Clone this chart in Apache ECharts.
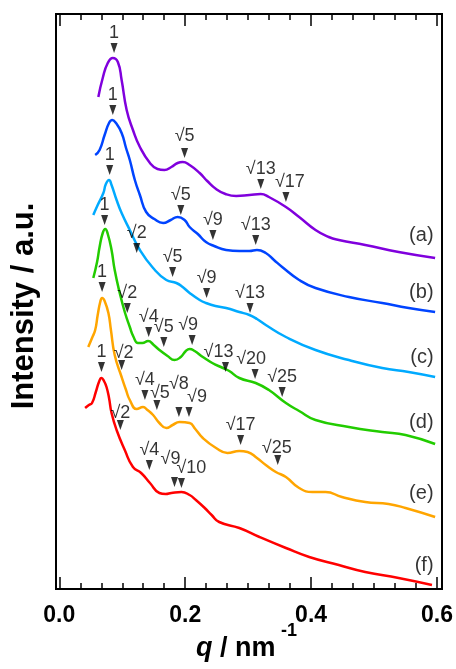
<!DOCTYPE html>
<html>
<head>
<meta charset="utf-8">
<script src="https://cdn.jsdelivr.net/npm/echarts@6/dist/echarts.min.js"></script>
<style>
html,body{margin:0;padding:0;background:#fff;}
#c{width:456px;height:669px;}
</style>
</head>
<body>
<div id="c"></div>
<script>
// ---- data (q in nm^-1, intensity in arbitrary offset units) ----
const xTicks = [0.0, 0.2, 0.4, 0.6];

const qA = [0.062,0.069,0.077,0.085,0.093,0.099,0.107,0.117,0.128,0.144,0.156,0.167,0.178,0.188,0.196,0.207,0.223,0.235,0.249,0.264,0.281,0.302,0.320,0.333,0.360,0.381,0.407,0.428,0.444,0.486,0.539,0.597];
const iA = [492,511,526,531,527,509,479,459,442,426,420,419,422,426,427,424,416,408,400,395,393,394,395,392,382,372,359,352,349,344,337,331];

const qB = [0.057,0.064,0.072,0.079,0.084,0.090,0.099,0.106,0.112,0.120,0.128,0.138,0.151,0.165,0.177,0.188,0.199,0.207,0.220,0.233,0.246,0.265,0.286,0.302,0.314,0.328,0.341,0.354,0.381,0.407,0.460,0.513,0.555,0.597];
const iB = [434,439,454,466,469,466,456,441,429,409,394,377,370,366,369,372,369,362,355,347,343,339,338,338,339,336,329,322,309,301,292,286,281,277];

const qC = [0.054,0.061,0.070,0.074,0.079,0.083,0.091,0.099,0.112,0.128,0.149,0.170,0.186,0.196,0.207,0.223,0.233,0.248,0.265,0.286,0.302,0.314,0.328,0.360,0.407,0.460,0.513,0.555,0.597];
const iC = [374,384,396,405,409,404,389,376,359,339,321,309,306,302,296,289,286,283,281,277,274,270,264,252,239,229,221,217,212];

const qD = [0.054,0.060,0.064,0.069,0.073,0.077,0.083,0.088,0.096,0.104,0.112,0.118,0.125,0.132,0.141,0.150,0.159,0.172,0.183,0.193,0.201,0.207,0.215,0.228,0.243,0.260,0.270,0.286,0.312,0.333,0.360,0.381,0.407,0.460,0.513,0.550,0.597];
const iD = [311,327,342,356,360,355,339,319,296,277,262,252,246,246,248,244,239,233,229,232,238,240,238,232,226,221,218,211,206,199,186,178,169,162,157,154,145];

const qE = [0.046,0.052,0.057,0.061,0.065,0.068,0.072,0.078,0.082,0.088,0.099,0.106,0.112,0.123,0.133,0.140,0.149,0.159,0.170,0.180,0.191,0.207,0.216,0.228,0.249,0.267,0.286,0.299,0.314,0.328,0.344,0.360,0.381,0.402,0.423,0.449,0.486,0.523,0.550,0.597];
const iE = [242,251,259,274,287,291,288,276,259,234,212,199,189,180,182,179,174,166,161,164,167,166,160,151,141,136,138,137,131,124,117,112,101,97,97,92,87,85,81,72];

const qF = [0.041,0.047,0.052,0.058,0.063,0.067,0.071,0.075,0.079,0.083,0.091,0.104,0.117,0.130,0.144,0.159,0.169,0.178,0.194,0.207,0.217,0.231,0.242,0.254,0.286,0.318,0.360,0.397,0.444,0.486,0.539,0.592];
const iF = [181,184,186,197,207,211,208,202,191,176,159,139,122,116,106,96,95,96,97,94,89,81,74,67,61,52,41,32,24,17,11,4];

// peak markers (arrow tip position and its index label)
const pkQA = [0.087,0.199,0.320,0.360];
const pkIA = [536,431,400,387];
const pkTA = ['1','√5','√13','√17'];

const pkQB = [0.085,0.193,0.244,0.312];
const pkIB = [474,374,349,344];
const pkTB = ['1','√5','√9','√13'];

const pkQC = [0.080,0.123,0.180,0.234,0.303];
const pkIC = [414,336,312,291,276];
const pkTC = ['1','√2','√5','√9','√13'];

const pkQD = [0.072,0.108,0.142,0.166,0.211,0.264,0.311,0.354];
const pkID = [364,276,252,242,244,217,210,192];
const pkTD = ['1','√2','√4','√5','√9','√13','√20','√25'];

const pkQE = [0.068,0.099,0.136,0.155,0.190,0.206,0.288,0.347];
const pkIE = [297,219,189,179,172,172,144,124];
const pkTE = ['1','√2','√4','√5','√8','√9','√17','√25'];

const pkQF = [0.067,0.097,0.143,0.183,0.194];
const pkIF = [217,159,119,102,101];
const pkTF = ['1','√2','√4','√9','√10'];

const curveNames = ['(a)','(b)','(c)','(d)','(e)','(f)'];
const curveNameI = [354,297,232,167,96,24];

// ---- styling ----
const colors = ['#8000DD','#0044FF','#00AAFF','#22CC00','#FFA500','#FF0000'];
const FONT = '"Liberation Sans", Arial, sans-serif';
// small label nudges (px) where the reference moved labels aside
const labelNudge = {
  'a|√17':[4,0], 'a|√5':[0,-2],
  'd|√9':[-4,0], 'd|√13':[-7,0], 'd|√20':[-4,0],
  'e|√2':[2,3], 'e|√5':[3,3], 'e|√8':[0,-13], 'e|√9':[8,0], 'e|√25':[-1,3],
  'f|√2':[0,3], 'f|√9':[-4,-8], 'f|√10':[10,0]
};

const curves = [[qA,iA],[qB,iB],[qC,iC],[qD,iD],[qE,iE],[qF,iF]];
const peaks = [[pkQA,pkIA,pkTA],[pkQB,pkIB,pkTB],[pkQC,pkIC,pkTC],[pkQD,pkID,pkTD],[pkQE,pkIE,pkTE],[pkQF,pkIF,pkTF]];
const keys = ['a','b','c','d','e','f'];

const series = [];
curves.forEach((c, k) => {
  series.push({
    type: 'line',
    data: c[0].map((q, j) => [q, c[1][j]]),
    smooth: 0.5,
    showSymbol: false,
    lineStyle: { color: colors[k], width: 2.5 },
    z: 2
  });
});
const arrowData = [];
peaks.forEach((p, k) => {
  p[0].forEach((q, j) => {
    const nudge = labelNudge[keys[k] + '|' + p[2][j]] || [0,0];
    arrowData.push({ name: p[2][j], value: [q, p[1][j]], label: { offset: nudge } });
  });
});
series.push({
  type: 'scatter',
  data: arrowData,
  symbol: 'triangle',
  symbolSize: [7, 10],
  symbolRotate: 180,
  symbolOffset: [0, -5],
  itemStyle: { color: '#000' },
  label: {
    show: true, position: 'top', distance: 1,
    formatter: '{b}', color: '#000', fontSize: 18, fontFamily: FONT
  },
  z: 5
});
series.push({
  type: 'scatter',
  data: curveNames.map((n, k) => ({ name: n, value: [0.5945, curveNameI[k]] })),
  symbolSize: 0,
  label: {
    show: true, position: 'left', distance: 0,
    formatter: '{b}', color: '#000', fontSize: 20, fontFamily: FONT
  },
  z: 5
});

const xCommon = {
  type: 'value', min: 0, max: 0.6, interval: 0.2,
  axisLine: { show: false },
  splitLine: { show: false },
  axisTick: { show: true, inside: true, length: 12, lineStyle: { color: '#000', width: 1.5 } },
  minorTick: { show: true, splitNumber: 6, length: 6, lineStyle: { color: '#000', width: 1.5 } }
};

const chart = echarts.init(document.getElementById('c'), null, { renderer: 'canvas' });
chart.setOption({
  animation: false,
  backgroundColor: '#fff',
  grid: { left: 59.3, right: 17.7, top: 14, bottom: 80 },
  xAxis: [
    Object.assign({}, xCommon, {
      position: 'bottom',
      axisLabel: {
        show: true, margin: 15, color: '#000', fontSize: 23, fontWeight: 'bold', fontFamily: FONT,
        formatter: v => v.toFixed(1)
      }
    }),
    Object.assign({}, xCommon, {
      position: 'top',
      axisLabel: { show: false }
    })
  ],
  yAxis: {
    type: 'value', min: 0, max: 575,
    axisLine: { show: false }, axisTick: { show: false },
    axisLabel: { show: false }, splitLine: { show: false }
  },
  graphic: [
    { type: 'rect', shape: { x: 56, y: 14, width: 386, height: 575 },
      style: { fill: 'transparent', stroke: '#000', lineWidth: 2 }, z: 10, silent: true },
    { type: 'text', x: 24, y: 306, rotation: Math.PI / 2,
      style: { text: 'Intensity / a.u.', fontSize: 31, fontWeight: 'bold', fontFamily: FONT,
        fill: '#000', align: 'center', verticalAlign: 'middle' } },
    { type: 'text', x: 196, y: 662,
      style: { text: 'q', fontSize: 27, fontWeight: 'bold', fontStyle: 'italic', fontFamily: FONT,
        fill: '#000', align: 'left', verticalAlign: 'bottom' } },
    { type: 'text', x: 212.5, y: 662,
      style: { text: ' / nm', fontSize: 27, fontWeight: 'bold', fontFamily: FONT,
        fill: '#000', align: 'left', verticalAlign: 'bottom' } },
    { type: 'text', x: 281, y: 640,
      style: { text: '-1', fontSize: 18, fontWeight: 'bold', fontFamily: FONT,
        fill: '#000', align: 'left', verticalAlign: 'bottom' } }
  ],
  series: series
});
</script>
</body>
</html>
